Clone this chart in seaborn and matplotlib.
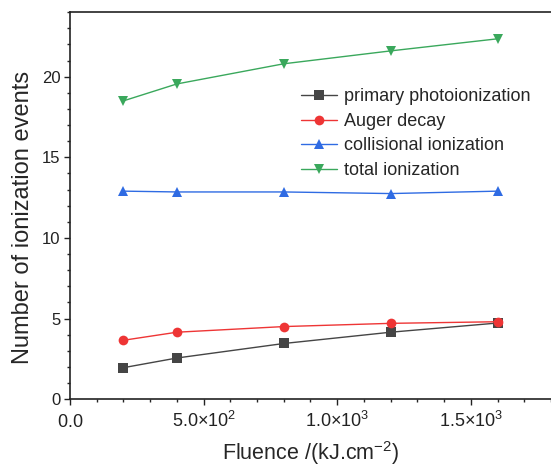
import matplotlib
matplotlib.use("Agg")
import matplotlib.pyplot as plt
from matplotlib.ticker import MultipleLocator, FixedLocator, FixedFormatter
import seaborn as sns
import pandas as pd

fluence = [200, 400, 800, 1200, 1600]
primary = [1.95, 2.55, 3.45, 4.15, 4.72]
auger = [3.65, 4.15, 4.5, 4.7, 4.8]
collisional = [12.9, 12.85, 12.85, 12.75, 12.9]
total = [18.5, 19.55, 20.8, 21.6, 22.35]

series_names = ["primary photoionization", "Auger decay",
                "collisional ionization", "total ionization"]
x_ticks = [0, 500, 1000, 1500]
x_tick_labels = ["$0.0$", "$5.0×10^{2}$", "$1.0×10^{3}$", "$1.5×10^{3}$"]

sns.set_style("ticks")
plt.rcParams["font.family"] = ["Liberation Sans", "DejaVu Sans"]
plt.rcParams["mathtext.fontset"] = "custom"
plt.rcParams["mathtext.rm"] = "Liberation Sans"
plt.rcParams["mathtext.default"] = "regular"

df = pd.DataFrame({
    "fluence": fluence * 4,
    "value": primary + auger + collisional + total,
    "series": sum([[n] * len(fluence) for n in series_names], []),
})

colors = ["#454545", "#ee3535", "#2f6be3", "#3aa85c"]
markers = ["s", "o", "^", "v"]

fig = plt.figure(figsize=(5.51, 4.69), dpi=100)
ax = fig.add_axes([0.127, 0.149, 0.873, 0.825])

sns.lineplot(data=df, x="fluence", y="value", hue="series", style="series",
             palette=dict(zip(series_names, colors)),
             markers=dict(zip(series_names, markers)),
             dashes=False, markersize=7, markeredgewidth=0, linewidth=1.0, ax=ax)

ax.set_xlim(0, 1800)
ax.set_ylim(0, 24)
ax.xaxis.set_major_locator(FixedLocator(x_ticks))
ax.xaxis.set_major_formatter(FixedFormatter(x_tick_labels))
ax.xaxis.set_minor_locator(MultipleLocator(100))
ax.yaxis.set_major_locator(MultipleLocator(5))
ax.yaxis.set_minor_locator(MultipleLocator(1))
ax.tick_params(which="major", length=4, width=1, colors="#222222")
ax.tick_params(which="minor", length=2.5, width=1)
ax.tick_params(axis="y", labelsize=12, pad=3)
ax.tick_params(axis="x", labelsize=13, pad=16)
for lbl in ax.get_xticklabels():
    lbl.set_va("baseline")
for s in ["left", "bottom", "top"]:
    ax.spines[s].set_linewidth(1.2)
    ax.spines[s].set_color("#222222")
ax.spines["right"].set_visible(False)

ax.set_xlabel("Fluence /(kJ.cm$^{-2}$)", fontsize=15.5, labelpad=6)
ax.set_ylabel("Number of ionization events", fontsize=17)
ax.yaxis.set_label_coords(-0.075, 0.47)

ax.legend(title=None, frameon=False, fontsize=13, loc="upper left",
          bbox_to_anchor=(0.465, 0.822), handlelength=2.0, handletextpad=0.4,
          labelspacing=0.42, borderaxespad=0)

fig.savefig("out.png", dpi=100)
plt.close(fig)
